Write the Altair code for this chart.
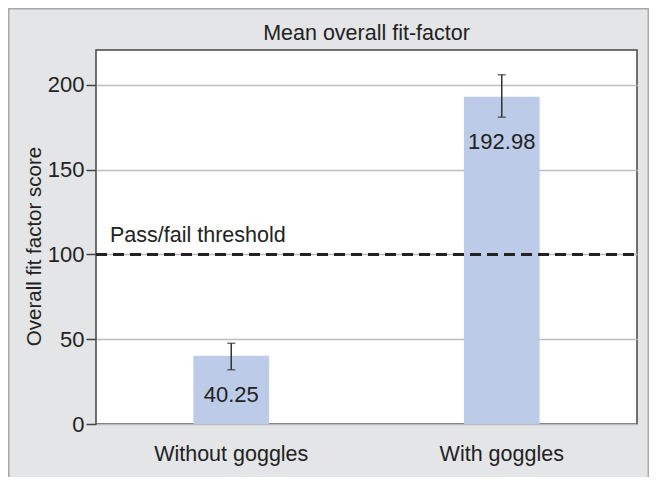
import altair as alt
import pandas as pd

groups = ["Without goggles", "With goggles"]
means = [40.25, 192.98]
err_low = [32.0, 181.0]
err_high = [47.6, 206.0]
labels = ["40.25", "192.98"]
threshold = [100]
threshold_label = ["Pass/fail threshold"]
chart_title = ["Mean overall fit-factor"]

df = pd.DataFrame({"group": groups, "mean": means, "lo": err_low, "hi": err_high, "label": labels})
thr = pd.DataFrame({"y": threshold, "label": threshold_label})
ttl = pd.DataFrame({"t": chart_title})

FONT = "Liberation Sans"
W, H = 541, 374

xenc = alt.X("group:N", sort=groups, title=None,
             scale=alt.Scale(paddingInner=0.72, paddingOuter=0.36),
             axis=alt.Axis(labelAngle=0, ticks=False, domain=False, labelPadding=19,
                           labelFontSize=21.5, labelColor="#222", labelFont=FONT))
yscale = alt.Scale(domain=[0, 220.6], nice=False, zero=True)

bars = alt.Chart(df).mark_bar(color="#bccbe7").encode(
    x=xenc,
    y=alt.Y("mean:Q", scale=yscale, title="Overall fit factor score",
            axis=alt.Axis(values=[0, 50, 100, 150, 200], tickSize=10, tickWidth=1.5,
                          tickColor="#444", labelPadding=2, labelFontSize=22,
                          labelColor="#222", labelFont=FONT, domain=False,
                          gridColor="#bdbdbd", gridWidth=1.5,
                          titleFontSize=20.5, titleFontWeight="normal", titleColor="#222",
                          titleFont=FONT, titleX=-62, titleY=196, titleAlign="center",
                          titleBaseline="middle")),
)

rules = alt.Chart(df).mark_rule(color="#333", strokeWidth=1.5).encode(
    x=alt.X("group:N", sort=groups), y="lo:Q", y2="hi:Q")
cap_lo = alt.Chart(df).mark_tick(color="#333", thickness=1.5, size=8).encode(
    x=alt.X("group:N", sort=groups), y="lo:Q")
cap_hi = alt.Chart(df).mark_tick(color="#333", thickness=1.5, size=8).encode(
    x=alt.X("group:N", sort=groups), y="hi:Q")
txt = alt.Chart(df).mark_text(fontSize=22, font=FONT, color="#222", baseline="middle", dy=25).encode(
    x=alt.X("group:N", sort=groups), y="lo:Q", text="label:N")

thr_rule = alt.Chart(thr).mark_rule(color="#222", strokeWidth=3, strokeDash=[11, 6]).encode(
    y="y:Q", x=alt.value(0), x2=alt.value(W))
thr_text = alt.Chart(thr).mark_text(fontSize=21.5, font=FONT, color="#222", align="left",
                                   baseline="alphabetic", dy=-12).encode(
    y="y:Q", x=alt.value(14), text="label:N")

title_txt = alt.Chart(ttl).mark_text(fontSize=21.5, font=FONT, color="#222", align="center",
                                    baseline="alphabetic").encode(
    x=alt.value(W / 2), y=alt.value(-10), text="t:N")

border = alt.Chart(ttl).mark_rect(fillOpacity=0, stroke="#a8a8a8", strokeWidth=1.5).encode(
    x=alt.value(-87.25), x2=alt.value(W + 11.25), y=alt.value(-41.25), y2=alt.value(H + 90))

chart = alt.layer(bars, thr_rule, rules, cap_lo, cap_hi, txt, thr_text, title_txt, border).properties(
    width=W, height=H,
    autosize=alt.AutoSizeParams(type="none"),
    padding={"left": 88, "top": 42, "right": 12, "bottom": 53},
    background="#e4e5e7",
).configure_view(fill="white", stroke="#444", strokeWidth=1.5)

chart.save("out.html", embed_options={"renderer": "svg", "actions": False})
